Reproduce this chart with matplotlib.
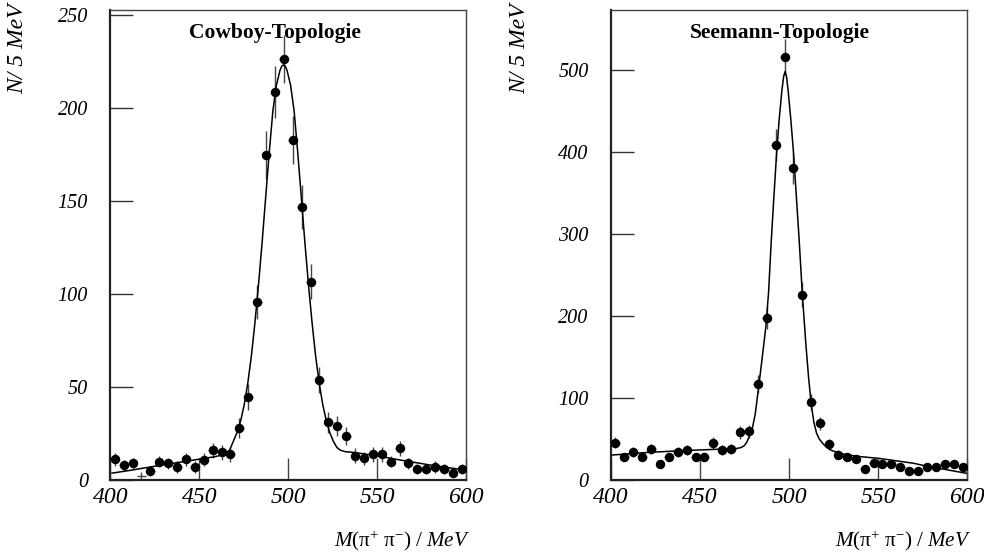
import matplotlib
matplotlib.use("Agg")
import matplotlib.pyplot as plt
import numpy as np

# ---------------- data ----------------
bin_centers = [402.5, 407.5, 412.5, 417.5, 422.5, 427.5, 432.5, 437.5, 442.5, 447.5,
               452.5, 457.5, 462.5, 467.5, 472.5, 477.5, 482.5, 487.5, 492.5, 497.5,
               502.5, 507.5, 512.5, 517.5, 522.5, 527.5, 532.5, 537.5, 542.5, 547.5,
               552.5, 557.5, 562.5, 567.5, 572.5, 577.5, 582.5, 587.5, 592.5, 597.5]

cowboy_counts = [11.1, 8.0, 8.9, 2.1, 4.8, 9.8, 8.9, 7.0, 11.1, 7.0,
                 10.9, 15.9, 15.0, 13.9, 28.0, 44.6, 95.5, 174.6, 208.5, 226.2,
                 182.5, 146.6, 106.6, 53.7, 30.9, 28.9, 23.7, 13.0, 11.8, 13.7,
                 13.9, 9.8, 17.0, 8.9, 5.9, 5.9, 7.0, 5.9, 3.9, 5.9]
cowboy_errors = [3.5, 3.0, 3.0, 2.0, 2.5, 3.0, 3.0, 3.0, 3.5, 3.0,
                 3.5, 4.0, 4.0, 4.0, 5.5, 7.0, 9.0, 13.0, 14.0, 13.0,
                 13.0, 12.0, 9.5, 7.0, 5.5, 5.5, 5.0, 4.0, 3.5, 4.0,
                 4.0, 3.0, 4.0, 3.0, 2.5, 2.5, 3.0, 2.5, 2.0, 2.5]
cowboy_dot_shown = [True, True, True, False, True, True, True, True, True, True,
                    True, True, True, True, True, True, True, True, True, True,
                    True, True, True, True, True, True, True, True, True, True,
                    True, True, True, True, True, True, True, True, True, True]

seemann_counts = [45.6, 28.1, 33.8, 28.5, 37.5, 20.0, 28.5, 34.6, 36.3, 27.7,
                  28.5, 45.2, 36.3, 37.9, 58.3, 59.5, 117.0, 197.7, 408.3, 516.0,
                  380.0, 226.0, 95.0, 68.9, 43.6, 30.6, 27.7, 25.7, 13.9, 20.8,
                  19.1, 19.1, 15.9, 11.4, 11.4, 15.9, 15.9, 19.1, 19.1, 16.3]
seemann_errors = [7.0, 5.0, 6.0, 5.0, 6.0, 4.5, 5.0, 6.0, 6.0, 5.0,
                  5.0, 7.0, 6.0, 6.0, 8.0, 8.0, 11.0, 14.0, 20.0, 22.0,
                  19.0, 15.0, 10.0, 8.0, 6.5, 5.5, 5.0, 5.0, 4.0, 4.5,
                  4.5, 4.5, 4.0, 3.5, 3.5, 4.0, 4.0, 4.5, 4.5, 4.0]

# fitted curves
cowboy_fit_x = [401, 410, 420, 430, 440, 450, 458, 462, 465, 467, 469.3, 471.3, 473.3,
                475.3, 477.3, 479.3, 481.3, 483.3, 485.3, 487.3, 489.3, 491.3, 493.3,
                495.3, 496.3, 497.3, 498.3, 499.3, 501.3, 503.3, 505.3, 507.3, 509.3,
                511.3, 513.3, 515.3, 517.3, 519.3, 521.3, 523.3, 525.3, 527.3, 529.3,
                532, 537, 550, 560, 570, 580, 590, 600]
cowboy_fit_y = [3.7, 5.0, 6.6, 8.2, 9.7, 11.2, 12.4, 13.2, 14.5, 16.0, 21.2, 25.7, 32.0,
                40.8, 52.4, 67.0, 85.0, 105.3, 127.8, 152.0, 176.0, 198.0, 212.0,
                220.0, 222.3, 223.0, 222.3, 220.0, 212.0, 198.0, 176.0, 152.0, 127.8,
                105.3, 85.0, 67.0, 52.4, 40.8, 32.0, 25.5, 20.8, 17.5, 16.0,
                15.2, 14.8, 13.0, 11.2, 9.6, 8.0, 6.6, 5.3]

seemann_fit_x = [401, 420, 440, 460, 470, 473, 475, 476.5, 478, 479.5, 481, 483, 485,
                 487, 488.5, 490, 491.5, 493, 494.5, 496, 497.0, 497.8, 498.6, 499.5,
                 501, 502.5, 504, 505.7, 507.5, 509.5, 511, 512.5, 514, 515.5, 517,
                 519, 521, 524, 528, 533, 540, 550, 560, 570, 578, 590, 600]
seemann_fit_y = [30.5, 33.5, 35.8, 37.5, 38.2, 39.5, 42.0, 47.0, 55.0, 64.0, 80.0, 114.0,
                 150.0, 187.0, 228.0, 290.0, 345.0, 397.0, 440.0, 475.0, 492.0, 498.0,
                 492.0, 475.0, 440.0, 400.0, 350.0, 293.0, 226.0, 165.0, 125.0, 92.0,
                 70.0, 57.0, 50.0, 44.5, 40.0, 36.0, 33.0, 30.5, 28.5, 26.5, 23.5,
                 20.4, 16.5, 12.0, 8.0]

x_ticks = [400, 450, 500, 550, 600]
cowboy_yticks = [0, 50, 100, 150, 200, 250]
seemann_yticks = [0, 100, 200, 300, 400, 500]

titles = ["Cowboy-Topologie", "Seemann-Topologie"]
ylabel_text = "N/ 5 MeV"
xlabel_text = r"$M(\mathrm{\pi}^{+}\ \mathrm{\pi}^{-})\ /\ MeV$"

# ---------------- style ----------------
plt.rcParams["font.family"] = ["Liberation Serif", "DejaVu Serif"]
plt.rcParams["mathtext.fontset"] = "custom"
plt.rcParams["mathtext.it"] = "Liberation Serif:italic"
plt.rcParams["mathtext.rm"] = "Liberation Serif"
plt.rcParams["mathtext.sf"] = "Liberation Serif"

W, H = 984, 554
fig = plt.figure(figsize=(W / 100, H / 100), dpi=100)

ax_w = 356 / W
ax_h = 470 / H
ax_b = (H - 480) / H
lefts = [110.3 / W, 611.0 / W]

panels = [
    dict(counts=cowboy_counts, errors=cowboy_errors, shown=cowboy_dot_shown,
         fx=cowboy_fit_x, fy=cowboy_fit_y, yticks=cowboy_yticks, ytop=252.5,
         title_x=0.463, ylab_x=18),
    dict(counts=seemann_counts, errors=seemann_errors, shown=[True] * len(seemann_counts),
         fx=seemann_fit_x, fy=seemann_fit_y, yticks=seemann_yticks, ytop=573.0,
         title_x=0.474, ylab_x=520),
]

for i, p in enumerate(panels):
    ax = fig.add_axes([lefts[i], ax_b, ax_w, ax_h])
    x = np.array(bin_centers)
    y = np.array(p["counts"])
    e = np.array(p["errors"])
    shown = np.array(p["shown"])

    ax.errorbar(x, y, yerr=e, xerr=2.5, fmt="none", ecolor="#444444",
                elinewidth=1.0, capsize=0, zorder=2)
    ax.plot(x[shown], y[shown], "o", color="black", markersize=5.8, zorder=3)
    ax.plot(p["fx"], p["fy"], "-", color="black", linewidth=1.1, zorder=4)

    ax.set_xlim(400, 600)
    ax.set_ylim(0, p["ytop"])
    ax.set_xticks(x_ticks)
    ax.set_yticks(p["yticks"])
    ax.set_xticklabels([str(t) for t in x_ticks], fontsize=17, fontstyle="italic")
    ax.set_yticklabels([str(t) for t in p["yticks"]], fontsize=14.5, fontstyle="italic")
    ax.tick_params(axis="x", direction="in", length=16, width=1.0, color="#444444",
                   pad=5, top=False)
    ax.tick_params(axis="y", direction="in", length=16.5, width=1.0, color="#333333",
                   pad=16, right=False)

    for side in ("left", "bottom"):
        ax.spines[side].set_linewidth(1.6)
        ax.spines[side].set_color("#222222")
    for side in ("top", "right"):
        ax.spines[side].set_linewidth(1.0)
        ax.spines[side].set_color("#444444")

    ax.text(p["title_x"], 0.951, titles[i], transform=ax.transAxes,
            ha="center", va="center", fontsize=15.5, fontweight="bold")

    # y label (rotated, top-left)
    fig.text(p["ylab_x"] / W, 1 - 4 / H, ylabel_text, rotation=90,
             ha="center", va="top", fontsize=17, fontstyle="italic")
    # x label (bottom-right)
    right_px = lefts[i] * W + 356 + 4
    fig.text(right_px / W, 1 - 541 / H, xlabel_text, ha="right", va="center",
             fontsize=15.2)

fig.savefig("out.png", dpi=100)
